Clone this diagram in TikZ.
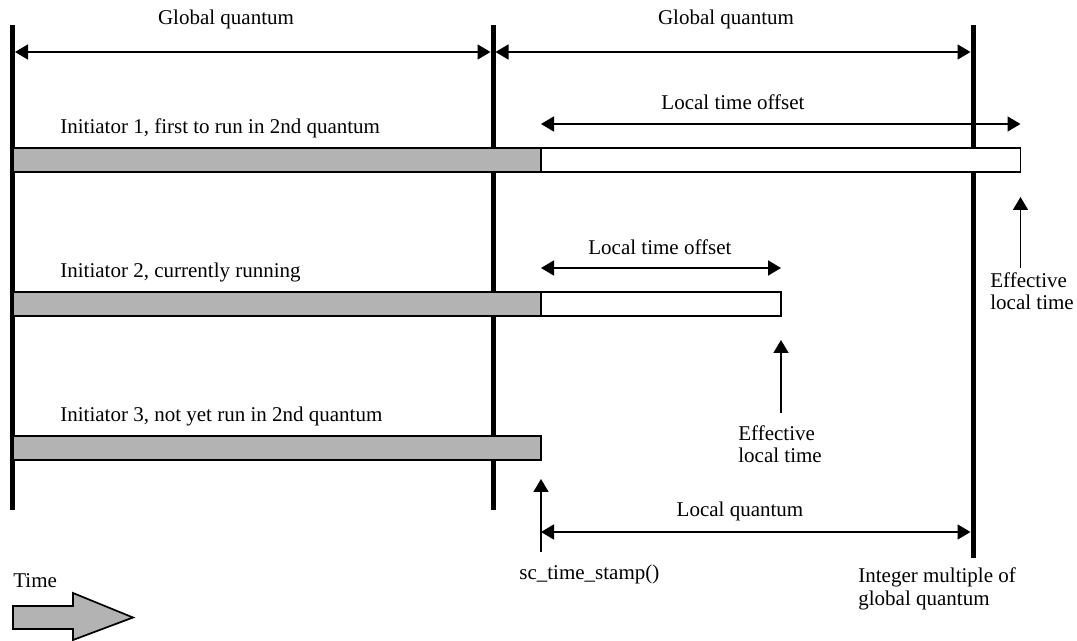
\documentclass[tikz,border=0pt]{standalone}
\usepackage{fontspec}
\setmainfont{Liberation Serif}
\usetikzlibrary{arrows.meta}
\definecolor{abu}{RGB}{179,179,179}
\tikzset{
  batas/.style={line width=2.5pt},
  batang/.style={line width=0.85pt},
  panah/.style={line width=0.85pt, -{Triangle[length=6.5pt,width=7.5pt]}},
  duapanah/.style={line width=0.85pt, {Triangle[length=6.5pt,width=7.5pt]}-{Triangle[length=6.5pt,width=7.5pt]}},
  teks/.style={inner sep=0pt, font=\fontsize{10.5pt}{11.25pt}\selectfont, align=left}
}
\begin{document}
\begin{tikzpicture}[x=0.5pt, y=-0.5pt]
  \useasboundingbox (0,0) rectangle (1077,641);
  % garis batas kuantum global
  \foreach \x/\yb [count=\i] in {12.5/510, 493/510, 973/558}{
    \coordinate (atas\i) at (\x,25);
    \coordinate (bawah\i) at (\x,\yb);
    \draw[batas] (atas\i) -- (bawah\i);
  }
  % kuantum global
  \coordinate (gq1a) at (15,52);
  \coordinate (gq1b) at (490.5,52);
  \coordinate (gq2a) at (495.5,52);
  \coordinate (gq2b) at (970.5,52);
  \draw[duapanah] (gq1a) -- (gq1b);
  \draw[duapanah] (gq2a) -- (gq2b);
  \node[teks, anchor=base] (gql1) at (226,25) {Global quantum};
  \node[teks, anchor=base] (gql2) at (726,25) {Global quantum};
  % batang tiap inisiator
  \foreach \yt/\nama in {148/Initiator 1{,} first to run in 2nd quantum, 292/Initiator 2{,} currently running, 436/Initiator 3{,} not yet run in 2nd quantum}{
    \draw[batang, fill=abu] (13,\yt) rectangle (541,\yt+24);
    \node[teks, anchor=base west] at (60,\yt-14) {\nama};
  }
  \draw[batang, fill=white] (541,148) rectangle (1020.5,172);
  \draw[batang, fill=white] (541,292) rectangle (781,316);
  % offset waktu lokal
  \coordinate (lto1a) at (541,124);
  \coordinate (lto1b) at (1020.5,124);
  \coordinate (lto2a) at (541,268);
  \coordinate (lto2b) at (781,268);
  \draw[duapanah] (lto1a) -- (lto1b);
  \draw[duapanah] (lto2a) -- (lto2b);
  \node[teks, anchor=base] (ltol1) at (733,110) {Local time offset};
  \node[teks, anchor=base west] (ltol2) at (588,255) {Local time offset};
  % waktu lokal efektif
  \coordinate (elt1a) at (1020.5,268);
  \coordinate (elt1b) at (1020.5,197);
  \coordinate (elt2a) at (781,413);
  \coordinate (elt2b) at (781,340);
  \draw[panah] (elt1a) -- (elt1b);
  \draw[panah] (elt2a) -- (elt2b);
  \node[teks, anchor=base west] (eltl1) at (990,310) {Effective\\local time};
  \node[teks, anchor=base west] (eltl2) at (738,463) {Effective\\local time};
  % kuantum lokal
  \coordinate (sca) at (541,552);
  \coordinate (scb) at (541,479);
  \coordinate (lqa) at (541,532);
  \coordinate (lqb) at (970.5,532);
  \draw[panah] (sca) -- (scb);
  \draw[duapanah] (lqa) -- (lqb);
  \node[teks, anchor=base] (lql) at (740,517) {Local quantum};
  \node[teks, anchor=base west] (scl) at (519,580) {sc\_time\_stamp()};
  \node[teks, anchor=base west] (iml) at (858,605) {Integer multiple of\\global quantum};
  % panah waktu
  \draw[batang, fill=abu] (13,606) -- (73,606) -- (73,593) -- (133,617.5) -- (73,640) -- (73,629) -- (13,629) -- cycle;
  \node[teks, anchor=base west] (waktu) at (13,588) {Time};
\end{tikzpicture}
\end{document}
